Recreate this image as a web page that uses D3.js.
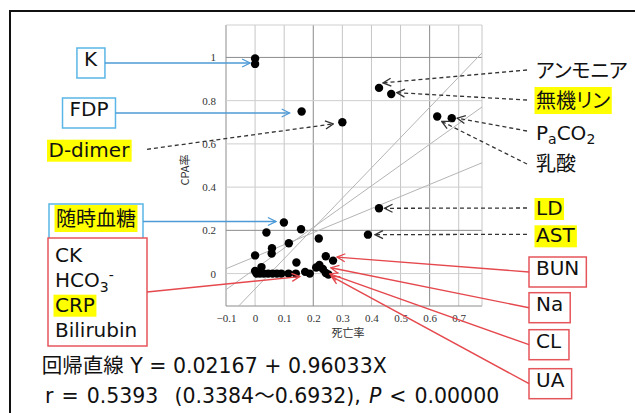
<!DOCTYPE html>
<html>
<head>
<meta charset="utf-8">
<script src="https://cdn.jsdelivr.net/npm/d3@7"></script>
<style>
  body { margin: 0; background: #fff; }
  svg { display: block; }
  .lbl { font-family: "DejaVu Sans", "Noto Sans CJK JP", sans-serif; font-size: 20px; fill: #111; }
  .jp { font-family: "Noto Sans CJK JP", sans-serif; font-feature-settings: "palt"; }
  .tick text { font-family: "Liberation Serif", serif; font-size: 11px; fill: #333; }
  .ttl { font-family: "Noto Sans CJK JP", sans-serif; font-size: 11px; fill: #333; }
</style>
</head>
<body>
<div class="chart"></div>
<script>
// data: x = 死亡率, y = CPA率
const deathRate = [0, 0, 0.16, 0.30, 0.426, 0.468, 0.626, 0.676, 0.426, 0.388,
  0.099, 0.039, 0.158, 0.219, 0.116, 0.058, 0.057, 0, 0.142, 0.243,
  0.268, 0.022, 0, 0.221, 0.21, 0.233, 0.243, 0.252,
  0.005, 0.017, 0.03, 0.045, 0.06, 0.075, 0.09, 0.115, 0.14, 0.172, 0.188]
const cpaRate = [0.995, 0.97, 0.75, 0.70, 0.859, 0.831, 0.727, 0.719, 0.302, 0.18,
  0.236, 0.19, 0.205, 0.162, 0.14, 0.117, 0.093, 0.084, 0.051, 0.08,
  0.06, 0.03, 0.012, 0.04, 0.028, 0.021, 0.003, -0.004,
  0, 0, 0, 0, 0, 0, 0, 0, 0, 0.008, 0]

const xTicks = [-0.1, 0, 0.1, 0.2, 0.3, 0.4, 0.5, 0.6, 0.7]
const yTicks = [0, 0.2, 0.4, 0.6, 0.8, 1]

// regression line and its two bounding lines
const fitIntercepts = [-0.071, 0.02167, 0.078]
const fitSlopes = [1.40, 0.96033, 0.557]

// annotations: label text and index of the point they point at
const blueLabels = ['K', 'FDP', '随時血糖']
const blueTargets = [0, 2, 10]
const dashLabels = ['D-dimer', 'アンモニア', '無機リン', 'PaCO2', '乳酸', 'LD', 'AST']
const dashTargets = [3, 4, 5, 7, 6, 8, 9]
const redLabels = ['BUN', 'Na', 'CL', 'UA']
const redTargets = [20, 25, 26, 27]
const redGroup = ['CK', 'HCO3-', 'CRP', 'Bilirubin']
const redGroupTarget = 36
const highlighted = ['D-dimer', '随時血糖', 'CRP', '無機リン', 'LD', 'AST']

const statLine1 = '回帰直線 Y = 0.02167 + 0.96033X'
const statLine2 = ['r = 0.5393  (0.3384～0.6932), ', 'P', ' < 0.00000']

const width = 635, height = 413
const plot = { left: 226, right: 482, top: 25, bottom: 306 }

const x = d3.scaleLinear().domain([-0.1, 0.78]).range([plot.left, plot.right])
const y = d3.scaleLinear().domain([-0.15, 1.15]).range([plot.bottom, plot.top])

const svg = d3.select('.chart').append('svg')
  .attr('width', width).attr('height', height)

const defs = svg.append('defs')
defs.append('clipPath').attr('id', 'clip')
  .append('rect')
  .attr('x', plot.left).attr('y', plot.top)
  .attr('width', plot.right - plot.left).attr('height', plot.bottom - plot.top)

const arrowColors = { blue: '#4d9ad6', dash: '#333', red: '#e5484d' }
Object.entries(arrowColors).forEach(([k, c]) => {
  defs.append('marker')
    .attr('id', 'ah-' + k)
    .attr('viewBox', '-1 -6 10 12')
    .attr('refX', 8).attr('refY', 0)
    .attr('markerWidth', 10).attr('markerHeight', 12)
    .attr('markerUnits', 'userSpaceOnUse')
    .attr('orient', 'auto')
    .append('path')
    .attr('d', 'M0,-4 L8,0 L0,4')
    .attr('fill', 'none')
    .attr('stroke', c)
    .attr('stroke-width', 1.3)
})

// outer frame
svg.append('rect')
  .attr('x', 10).attr('y', 11).attr('width', 700).attr('height', 500)
  .attr('fill', 'none').attr('stroke', '#111').attr('stroke-width', 2)

// grid
const darkX = [-0.1, 0.2, 0.6]
const darkY = [1, 0.2]
const grid = svg.append('g')
grid.selectAll('.vx').data(xTicks).join('line')
  .attr('x1', d => x(d)).attr('x2', d => x(d))
  .attr('y1', plot.top).attr('y2', plot.bottom)
  .attr('stroke', d => darkX.includes(d) ? '#8c8c8c' : '#c6c6c6')
grid.selectAll('.hy').data(yTicks).join('line')
  .attr('x1', plot.left).attr('x2', plot.right)
  .attr('y1', d => y(d)).attr('y2', d => y(d))
  .attr('stroke', d => darkY.includes(d) ? '#8c8c8c' : '#cfcfcf')
grid.append('line')
  .attr('x1', plot.left).attr('x2', plot.right)
  .attr('y1', plot.top).attr('y2', plot.top).attr('stroke', '#cfcfcf')
grid.append('line')
  .attr('x1', plot.left).attr('x2', plot.right)
  .attr('y1', plot.bottom).attr('y2', plot.bottom).attr('stroke', '#8c8c8c')
grid.append('line')
  .attr('x1', plot.right).attr('x2', plot.right)
  .attr('y1', plot.top).attr('y2', plot.bottom).attr('stroke', '#c6c6c6')

// axes (labels only)
const xAxis = svg.append('g')
  .attr('transform', `translate(0,${plot.bottom + 5})`)
  .call(d3.axisBottom(x).tickValues(xTicks).tickSize(0).tickFormat(d3.format('')))
const yAxis = svg.append('g')
  .attr('transform', `translate(${plot.left - 7},0)`)
  .call(d3.axisLeft(y).tickValues(yTicks).tickSize(0).tickFormat(d3.format('')))
xAxis.select('.domain').remove()
yAxis.select('.domain').remove()

svg.append('text').attr('class', 'ttl')
  .attr('x', 348).attr('y', 337).attr('text-anchor', 'middle').text('死亡率')
svg.append('text').attr('class', 'ttl')
  .attr('transform', 'translate(189,170) rotate(-90)')
  .attr('text-anchor', 'middle').text('CPA率')

// regression lines
const xd = x.domain()
svg.append('g').attr('clip-path', 'url(#clip)')
  .selectAll('line').data(fitSlopes).join('line')
  .attr('x1', x(xd[0])).attr('x2', x(xd[1]))
  .attr('y1', (s, i) => y(fitIntercepts[i] + s * xd[0]))
  .attr('y2', (s, i) => y(fitIntercepts[i] + s * xd[1]))
  .attr('stroke', '#b4b4b4').attr('stroke-width', 1)

// points
svg.append('g').selectAll('circle').data(deathRate).join('circle')
  .attr('cx', d => x(d))
  .attr('cy', (d, i) => y(cpaRate[i]))
  .attr('r', 4.2)
  .attr('fill', '#000')

const px = i => [x(deathRate[i]), y(cpaRate[i])]

// rich label writer for sub/superscripts
const isJp = s => /[^\x00-\x7f]/.test(s)
function writeLabel(t, s) {
  if (isJp(s)) t.classed('jp', true)
  if (s === 'HCO3-') {
    t.append('tspan').text('HCO')
    t.append('tspan').attr('dy', 5).style('font-size', '14px').text('3')
    t.append('tspan').attr('dy', -12).style('font-size', '14px').text('-')
    t.append('tspan').attr('dy', 7).text('')
  } else if (s === 'PaCO2') {
    t.append('tspan').text('P')
    t.append('tspan').attr('dy', 4).style('font-size', '14px').text('a')
    t.append('tspan').attr('dy', -4).text('CO')
    t.append('tspan').attr('dy', 4).style('font-size', '14px').text('2')
  } else {
    t.text(s)
  }
  if (highlighted.includes(s)) {
    const b = t.node().getBBox()
    d3.select(t.node().parentNode).insert('rect', () => t.node())
      .attr('x', b.x - 1.5).attr('y', b.y + 2)
      .attr('width', b.width + 3).attr('height', b.height - 2)
      .attr('fill', '#ffff00')
  }
  return t
}

function boxAround(g, t, color) {
  const b = t.node().getBBox()
  const r = { x: b.x - 7, y: b.y + 1, w: b.width + 14, h: b.height + 6 }
  g.insert('rect', ':first-child')
    .attr('x', r.x).attr('y', r.y).attr('width', r.w).attr('height', r.h)
    .attr('fill', '#fff').attr('stroke', color).attr('stroke-width', 1.5)
  return r
}

function arrow(from, to, kind) {
  svg.append('line')
    .attr('x1', from[0]).attr('y1', from[1])
    .attr('x2', to[0]).attr('y2', to[1])
    .attr('stroke', arrowColors[kind])
    .attr('stroke-width', kind === 'dash' ? 1.3 : 1.4)
    .attr('stroke-dasharray', kind === 'dash' ? '4,3' : null)
    .attr('marker-end', `url(#ah-${kind})`)
}

const labels = svg.append('g').attr('class', 'lbl')

// blue boxed labels on the left, arrows run horizontally
const bluePos = [[90.5, 66], [89, 116], [96, 226]]
const blueGap = [5, 12, 8]
blueLabels.forEach((s, i) => {
  const g = labels.append('g')
  const t = writeLabel(g.append('text').attr('x', bluePos[i][0]).attr('y', bluePos[i][1])
    .attr('text-anchor', 'middle'), s)
  const r = boxAround(g, t, '#5ab6e6')
  const cy = r.y + r.h / 2
  arrow([r.x + r.w, cy], [px(blueTargets[i])[0] - blueGap[i], cy], 'blue')
})

// dashed labels
const dashPos = [[48.5, 156.7], [536, 77.7], [536, 108], [536, 140], [536, 171], [536, 215], [536, 242.3]]
const dashStart = [[147, 149.3], [527, 70], [527, 100], [527, 131], [527, 164], [527, 208], [527, 234.3]]
const dashOff = [[-9, 1.6], [4, -5], [5.5, -1.3], [5.5, 0], [4.5, 5], [5.5, 0], [7, 0]]
dashLabels.forEach((s, i) => {
  const g = labels.append('g')
  writeLabel(g.append('text').attr('x', dashPos[i][0]).attr('y', dashPos[i][1]), s)
  const p = px(dashTargets[i])
  arrow(dashStart[i], [p[0] + dashOff[i][0], p[1] + dashOff[i][1]], 'dash')
})

// red boxed labels on the right
const redPos = [[536, 275], [536, 310.7], [536, 347.7], [536, 386.7]]
const redOff = [[4, -3.5], [8, -1.3], [4, 1], [3, 2]]
redLabels.forEach((s, i) => {
  const g = labels.append('g')
  const t = writeLabel(g.append('text').attr('x', redPos[i][0]).attr('y', redPos[i][1]), s)
  const r = boxAround(g, t, '#e5565b')
  const p = px(redTargets[i])
  arrow([r.x, r.y + r.h / 2], [p[0] + redOff[i][0], p[1] + redOff[i][1]], 'red')
})

// red group box on the left
const rg = labels.append('g')
const rgLines = rg.append('g')
redGroup.forEach((s, i) => {
  writeLabel(rgLines.append('text').attr('x', 55).attr('y', 261.7 + i * 25), s)
})
{
  rg.insert('rect', ':first-child')
    .attr('x', 48).attr('y', 238).attr('width', 99).attr('height', 108)
    .attr('fill', '#fff').attr('stroke', '#e5565b').attr('stroke-width', 1.5)
  const p = px(redGroupTarget)
  arrow([147, 292], [p[0] + 4, p[1] + 3], 'red')
}

// statistics text
const st = svg.append('g').attr('class', 'lbl')
const l1 = st.append('text').attr('x', 41.7).attr('y', 373.3)
  .attr('xml:space', 'preserve').style('white-space', 'pre').style('font-size', '20.5px')
l1.append('tspan').attr('class', 'jp').text(statLine1.slice(0, 4))
l1.append('tspan').text(statLine1.slice(4))
const l2 = st.append('text').attr('x', 45).attr('y', 402.7)
  .attr('xml:space', 'preserve').style('white-space', 'pre').style('font-size', '20.5px')
  .style('word-spacing', '1.5px')
l2.append('tspan').text(statLine2[0])
l2.append('tspan').style('font-style', 'italic').text(statLine2[1])
l2.append('tspan').text(statLine2[2])
</script>
</body>
</html>
